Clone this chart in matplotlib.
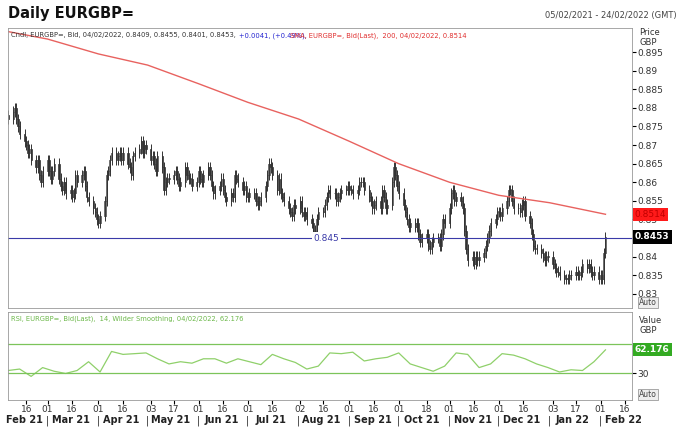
import matplotlib
matplotlib.use("Agg")
import matplotlib.pyplot as plt
import matplotlib.dates as mdates
import numpy as np
import pandas as pd

# daily closes, Fri 05/02/2021 then one row per week (Mon..Fri)
closes = [0.877,
    0.879, 0.880, 0.877, 0.875, 0.873,
    0.871, 0.870, 0.868, 0.869, 0.866,
    0.864, 0.866, 0.862, 0.860, 0.863,
    0.866, 0.863, 0.861, 0.863, 0.865,
    0.861, 0.859, 0.858, 0.860, 0.857,
    0.858, 0.856, 0.857, 0.862, 0.860,
    0.862, 0.863, 0.859, 0.856, 0.855,
    0.853, 0.852, 0.850, 0.849, 0.851,
    0.855, 0.862, 0.863, 0.866, 0.868,
    0.866, 0.867, 0.868, 0.866, 0.868,
    0.865, 0.864, 0.862, 0.867, 0.868,
    0.869, 0.871, 0.868, 0.870, 0.869,
    0.866, 0.867, 0.865, 0.863, 0.867,
    0.864, 0.858, 0.860, 0.861, 0.861,
    0.862, 0.863, 0.861, 0.859, 0.860,
    0.864, 0.862, 0.861, 0.861, 0.859,
    0.860, 0.863, 0.861, 0.860, 0.862,
    0.864, 0.862, 0.859, 0.857, 0.858,
    0.859, 0.861, 0.858, 0.856, 0.855,
    0.857, 0.856, 0.862, 0.861, 0.860,
    0.858, 0.859, 0.856, 0.856, 0.857,
    0.857, 0.855, 0.854, 0.855, 0.856,
    0.859, 0.862, 0.865, 0.864, 0.862,
    0.858, 0.861, 0.857, 0.856, 0.855,
    0.853, 0.852, 0.851, 0.854, 0.853,
    0.855, 0.852, 0.851, 0.852, 0.850,
    0.849, 0.846, 0.847, 0.850, 0.852,
    0.852, 0.854, 0.856, 0.858, 0.857,
    0.857, 0.855, 0.856, 0.857, 0.858,
    0.858, 0.859, 0.858, 0.858, 0.857,
    0.858, 0.860, 0.860, 0.860, 0.858,
    0.856, 0.855, 0.853, 0.854, 0.855,
    0.853, 0.858, 0.856, 0.853, 0.854,
    0.860, 0.864, 0.862, 0.859, 0.857,
    0.854, 0.852, 0.850, 0.848, 0.849,
    0.848, 0.849, 0.846, 0.844, 0.845,
    0.846, 0.843, 0.842, 0.844, 0.845,
    0.845, 0.843, 0.846, 0.850, 0.849,
    0.853, 0.857, 0.858, 0.855, 0.856,
    0.855, 0.853, 0.847, 0.842, 0.839,
    0.840, 0.838, 0.840, 0.839, 0.840,
    0.841, 0.843, 0.845, 0.847, 0.849,
    0.850, 0.852, 0.852, 0.851, 0.853,
    0.855, 0.858, 0.858, 0.855, 0.853,
    0.853, 0.852, 0.854, 0.855, 0.851,
    0.849, 0.846, 0.843, 0.842, 0.842,
    0.841, 0.840, 0.839, 0.840, 0.840,
    0.838, 0.837, 0.836, 0.836, 0.835,
    0.834, 0.834, 0.834, 0.835, 0.835,
    0.836, 0.835, 0.835, 0.836, 0.838,
    0.837, 0.838, 0.836, 0.835, 0.836,
    0.834, 0.835, 0.834, 0.841, 0.8453]
first_open = 0.878

sma_dates = ["2021-02-05", "2021-03-01", "2021-04-01", "2021-05-01", "2021-06-01", "2021-07-01",
             "2021-08-01", "2021-09-01", "2021-10-01", "2021-11-01", "2021-12-01", "2022-01-01", "2022-02-04"]
sma_vals = [0.9005, 0.8985, 0.8945, 0.8915, 0.8865, 0.8815, 0.877, 0.871, 0.865, 0.860, 0.8565, 0.8545, 0.8514]

# weekly RSI readings (Fridays from 05/02/2021)
rsi_vals = [34, 36, 26, 38, 33, 30, 34, 46, 32, 60, 56, 57, 58, 50, 43, 46, 44, 50, 50, 44,
            50, 46, 42, 56, 50, 45, 36, 40, 58, 57, 59, 47, 50, 52, 58, 43, 38, 33, 40, 58,
            56, 38, 43, 57, 55, 50, 43, 38, 32, 35, 34, 46, 62.176]

dates = pd.bdate_range("2021-02-05", "2022-02-04")[:len(closes)]
rsi_dates = pd.date_range("2021-02-05", periods=len(rsi_vals), freq="7D")

fig = plt.figure(figsize=(6.8, 4.29), dpi=100)
fig.patch.set_facecolor("white")
ax = fig.add_axes([0.012, 0.282, 0.917, 0.653])
ax2 = fig.add_axes([0.012, 0.068, 0.917, 0.205], sharex=ax)

# candles
opens = [first_open] + closes[:-1]
x = mdates.date2num(dates)
for xi, o, c in zip(x, opens, closes):
    lo, hi = min(o, c) - 0.0014, max(o, c) + 0.0014
    ax.vlines(xi, lo, hi, color="#333333", lw=0.7)
    up = c >= o
    ax.bar(xi, max(abs(c - o), 0.0002), bottom=min(o, c), width=0.7,
           color="white" if up else "#333333", edgecolor="#333333", lw=0.5)

ax.plot(pd.to_datetime(sma_dates), sma_vals, color="#e8625f", lw=1.0)
ax.axhline(0.845, color="#3a3aa8", lw=0.8)
ax.text(pd.Timestamp("2021-08-18"), 0.845, "0.845", color="#3a3aa8", fontsize=6.5,
        ha="center", va="center", bbox=dict(fc="white", ec="none", pad=1))

ax.set_ylim(0.8262, 0.9015)
ax.set_xlim(pd.Timestamp("2021-02-05"), pd.Timestamp("2022-02-20"))
ax.yaxis.tick_right()
yt = np.arange(0.83, 0.8951, 0.005)
ax.set_yticks(yt)
ax.set_yticklabels([f"{v:g}" for v in yt], fontsize=6.5, color="#333333")
ax.tick_params(axis="x", bottom=False, labelbottom=False)
ax.tick_params(axis="y", length=3, pad=1)
for s in ax.spines.values():
    s.set_color("#999999")
    s.set_linewidth(0.6)

ax.text(0.005, 0.985, "Cndl, EURGBP=, Bid, 04/02/2022, 0.8409, 0.8455, 0.8401, 0.8453,",
        transform=ax.transAxes, fontsize=4.9, va="top", color="#333333")
ax.text(0.37, 0.985, "+0.0041, (+0.49%),", transform=ax.transAxes, fontsize=4.9, va="top", color="#2424d0")
ax.text(0.452, 0.985, "SMA, EURGBP=, Bid(Last),  200, 04/02/2022, 0.8514",
        transform=ax.transAxes, fontsize=4.9, va="top", color="#e03030")
ax.text(1.012, 1.0, "Price\nGBP", transform=ax.transAxes, fontsize=6, va="top", color="#333333",
        linespacing=1.1)
ax.text(1.005, 0.8514, "0.8514", transform=ax.get_yaxis_transform(), fontsize=6.5, va="center",
        color="#c00000", bbox=dict(fc="#ff1a1a", ec="none", pad=1.5))
ax.text(1.005, 0.8453, "0.8453", transform=ax.get_yaxis_transform(), fontsize=6.5, va="center",
        color="white", weight="bold", bbox=dict(fc="black", ec="none", pad=1.5))
ax.text(1.012, 0.01, "Auto", transform=ax.transAxes, fontsize=5.5, color="#444444",
        bbox=dict(fc="#eeeeee", ec="#888888", lw=0.5, pad=0.8))

# RSI
ax2.plot(rsi_dates, rsi_vals, color="#8fd06a", lw=0.9)
ax2.axhline(70, color="#7cc45a", lw=0.9)
ax2.axhline(30, color="#7cc45a", lw=0.9)
ax2.set_ylim(-6, 114)
ax2.yaxis.tick_right()
ax2.set_yticks([30])
ax2.set_yticklabels(["30"], fontsize=6.5, color="#333333")
ax2.tick_params(axis="y", length=3, pad=1)
for s in ax2.spines.values():
    s.set_color("#999999")
    s.set_linewidth(0.6)
ax2.text(0.005, 0.96, "RSI, EURGBP=, Bid(Last),  14, Wilder Smoothing, 04/02/2022, 62.176",
         transform=ax2.transAxes, fontsize=4.9, va="top", color="#6cb84a")
ax2.text(1.012, 0.95, "Value\nGBP", transform=ax2.transAxes, fontsize=6, va="top", color="#333333",
         linespacing=1.1)
ax2.text(1.005, 62.176, "62.176", transform=ax2.get_yaxis_transform(), fontsize=6.5, va="center",
         color="white", weight="bold", bbox=dict(fc="#33aa22", ec="none", pad=1.5))
ax2.text(1.012, 0.03, "Auto", transform=ax2.transAxes, fontsize=5.5, color="#444444",
         bbox=dict(fc="#eeeeee", ec="#888888", lw=0.5, pad=0.8))

day_ticks = ["2021-02-16", "2021-03-01", "2021-03-16", "2021-04-01", "2021-04-16", "2021-05-03",
             "2021-05-17", "2021-06-01", "2021-06-16", "2021-07-01", "2021-07-16", "2021-08-02",
             "2021-08-16", "2021-09-01", "2021-09-16", "2021-10-01", "2021-10-18", "2021-11-01",
             "2021-11-16", "2021-12-01", "2021-12-16", "2022-01-03", "2022-01-17", "2022-02-01", "2022-02-16"]
td = pd.to_datetime(day_ticks)
ax2.set_xticks(td)
ax2.set_xticklabels([d.strftime("%d") for d in td], fontsize=6.5, color="#333333")
ax2.tick_params(axis="x", length=3, pad=1)

months = pd.date_range("2021-02-01", "2022-02-01", freq="MS")
for m in months:
    label_x = max(m + pd.Timedelta(days=14), pd.Timestamp("2021-02-13"))
    ax2.annotate(m.strftime("%b %y"), (mdates.date2num(label_x), 0), xycoords=("data", "axes fraction"),
                 xytext=(0, -11), textcoords="offset points", ha="center", va="top",
                 fontsize=7, weight="bold", color="#222222", annotation_clip=False)
    if m > pd.Timestamp("2021-02-05"):
        ax2.annotate("|", (mdates.date2num(m), 0), xycoords=("data", "axes fraction"),
                     xytext=(0, -11), textcoords="offset points", ha="center", va="top",
                     fontsize=7, color="#222222", annotation_clip=False)

fig.text(0.012, 0.985, "Daily EURGBP=", fontsize=10.5, weight="bold", va="top", color="#111111")
fig.text(0.995, 0.975, "05/02/2021 - 24/02/2022 (GMT)", fontsize=6, va="top", ha="right", color="#444444")

fig.savefig("out.png", dpi=100)
